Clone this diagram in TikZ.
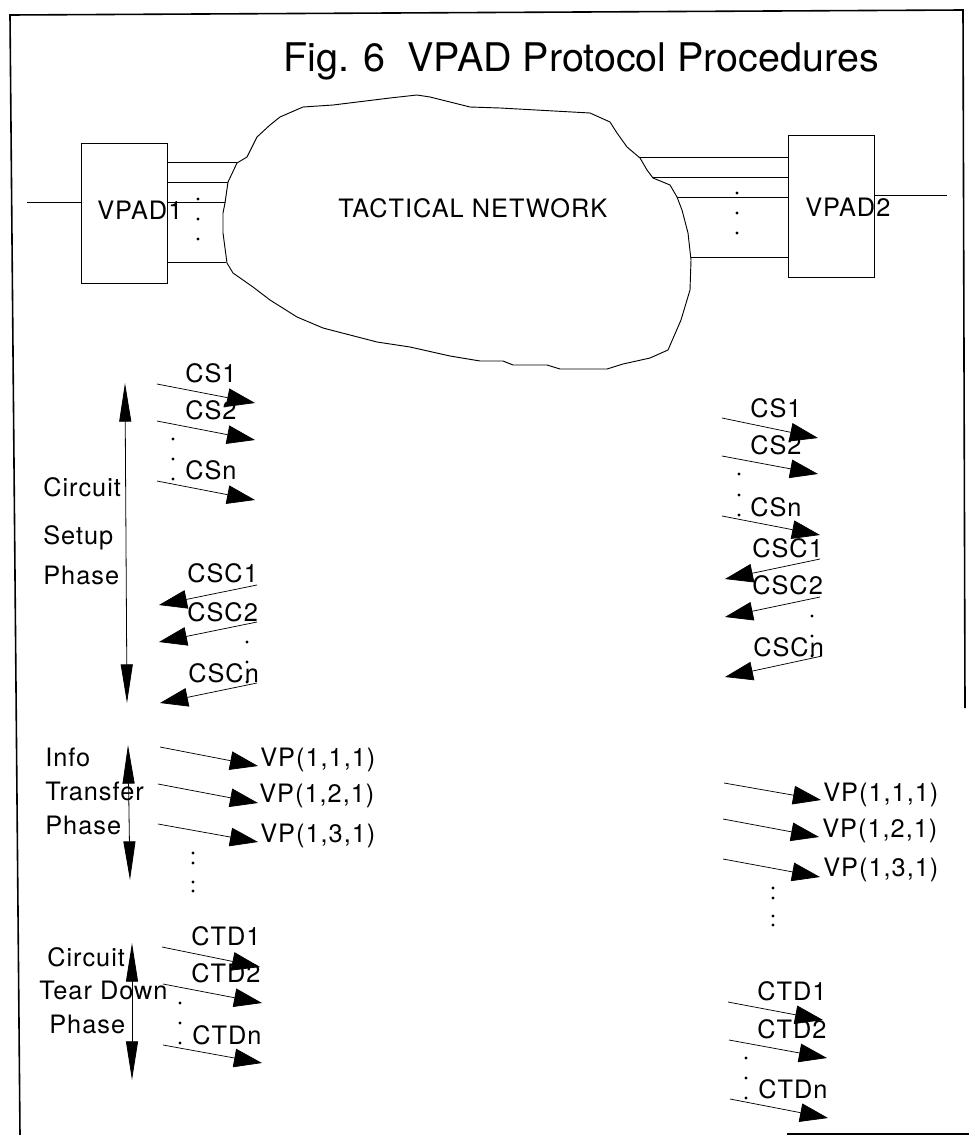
\documentclass[tikz,border=0pt]{standalone}
\usepackage{fontspec}
\setmainfont{TeX Gyre Heros}
\usetikzlibrary{positioning,arrows.meta,calc}
\tikzset{
  msgarrow/.style={-{Triangle[length=21pt, width=14pt]}, line width=0.55pt},
  phasearrow/.style={{Triangle[length=29pt, width=9pt]}-{Triangle[length=29pt, width=9pt]}, line width=0.6pt},
  padbox/.style={draw, line width=0.7pt, minimum width=64pt, minimum height=105pt, inner sep=0pt},
  wire/.style={line width=0.6pt},
  cloudline/.style={line width=0.7pt, line join=round},
  framepen/.style={line width=1.2pt},
  lbl/.style={font=\fontsize{19}{22}\selectfont\addfontfeature{LetterSpace=4}, inner sep=0pt, anchor=base west},
  titlelbl/.style={font=\fontsize{29.6}{34}\selectfont, inner sep=0pt, anchor=base west},
  dotmark/.style={fill=black}
}

\begin{document}
\begin{tikzpicture}[x=0.75pt, y=-0.75pt]
      \useasboundingbox (0,0) rectangle (969,1135);
      % frame
      \draw[framepen] (20,1135) -- (10,15) -- (963,10) -- (965,708);
      \draw[framepen] (787,1134) -- (969,1134);
      \node[titlelbl] (title) at (283,71) {Fig. 6\ \ VPAD Protocol Procedures};

      % network and the two pads
      \draw[cloudline] (303,107) -- (333,105) -- (390,98) -- (417,95) -- (430,97) -- (470,107)
        -- (500,108) -- (590,113) -- (610,122) -- (617,133) -- (627,147) -- (640,158) -- (647,170)
        -- (653,178) -- (670,185) -- (677,197) -- (682,210) -- (688,233) -- (691,260) -- (690,290)
        -- (681,320) -- (668,350) -- (650,358) -- (623,364) -- (607,369) -- (560,369) -- (547,365)
        -- (513,365) -- (503,361) -- (480,361) -- (450,356) -- (410,347) -- (377,342) -- (323,328)
        -- (297,317) -- (270,300) -- (253,287) -- (233,273) -- (227,263) -- (223,233) -- (223,213)
        -- (225,203) -- (228,182) -- (237,163) -- (247,157) -- (252,147) -- (257,137) -- (270,125)
        -- (280,117) -- cycle;
      \node[lbl] (net) at (338,217) {TACTICAL NETWORK};
      \node[padbox] (vpad1) at (124.5,213) {};
      \node[padbox, minimum width=65pt, minimum height=106pt] (vpad2) at (831.5,206.5) {};
      \node[lbl] (vpad1txt) at (97,219) {VPAD1};
      \node[lbl] (vpad2txt) at (805,216) {VPAD2};

      % access lines
      \coordinate (in1) at (27,202);
      \coordinate (in2) at (947,195);
      \draw[wire] (in1) -- (in1 -| vpad1.west);
      \draw[wire] (in2) -- (in2 -| vpad2.east);
      \coordinate (l1) at (237,162);
      \coordinate (l2) at (228,182);
      \coordinate (l3) at (225,202);
      \coordinate (l4) at (226,262);
      \coordinate (r1) at (640,157);
      \coordinate (r2) at (653,177);
      \coordinate (r3) at (677,197);
      \coordinate (r4) at (691,257);
      \draw[wire] (l1 -| vpad1.east) -- (l1);
      \draw[wire] (l2 -| vpad1.east) -- (l2);
      \draw[wire] (l3 -| vpad1.east) -- (l3);
      \draw[wire] (l4 -| vpad1.east) -- (l4);
      \draw[wire] (r1) -- (r1 -| vpad2.west);
      \draw[wire] (r2) -- (r2 -| vpad2.west);
      \draw[wire] (r3) -- (r3 -| vpad2.west);
      \draw[wire] (r4) -- (r4 -| vpad2.west);

      % phase markers
      \node[lbl] (ph1a) at (43,496) {Circuit};
      \node[lbl] (ph1b) at (43,544) {Setup};
      \node[lbl] (ph1c) at (43,584) {Phase};
      \node[lbl] (ph2a) at (45,766) {Info};
      \node[lbl] (ph2b) at (45,800) {Transfer};
      \node[lbl] (ph2c) at (45,834) {Phase};
      \node[lbl] (ph3a) at (47,966) {Circuit};
      \node[lbl] (ph3b) at (39,999) {Tear Down};
      \node[lbl] (ph3c) at (49,1033) {Phase};
      \coordinate (p1t) at (125,383);  \coordinate (p1b) at (127,703);
      \coordinate (p2t) at (128,745);  \coordinate (p2b) at (130,880);
      \coordinate (p3t) at (132,943);  \coordinate (p3b) at (132,1080);
      \draw[phasearrow] (p1t) -- (p1b);
      \draw[phasearrow] (p2t) -- (p2b);
      \draw[phasearrow] (p3t) -- (p3b);

      % circuit setup, VPAD1 side
      \coordinate (lcs1a) at (157,384);  \coordinate (lcs1b) at (255,403);
      \coordinate (lcs2a) at (157,421);  \coordinate (lcs2b) at (255,440);
      \coordinate (lcsna) at (157,481);  \coordinate (lcsnb) at (255,500);
      \coordinate (lcc1a) at (257,585);  \coordinate (lcc1b) at (159,605);
      \coordinate (lcc2a) at (257,622);  \coordinate (lcc2b) at (159,642);
      \coordinate (lccna) at (257,683);  \coordinate (lccnb) at (160,703);
      \draw[msgarrow] (lcs1a) -- (lcs1b);
      \draw[msgarrow] (lcs2a) -- (lcs2b);
      \draw[msgarrow] (lcsna) -- (lcsnb);
      \draw[msgarrow] (lcc1a) -- (lcc1b);
      \draw[msgarrow] (lcc2a) -- (lcc2b);
      \draw[msgarrow] (lccna) -- (lccnb);
      \node[lbl] (lcs1) at (185,382) {CS1};
      \node[lbl] (lcs2) at (185,419) {CS2};
      \node[lbl] (lcsn) at (185,479) {CSn};
      \node[lbl] (lcc1) at (187,582) {CSC1};
      \node[lbl] (lcc2) at (187,621) {CSC2};
      \node[lbl] (lccn) at (188,682) {CSCn};

      % circuit setup, VPAD2 side
      \coordinate (rcs1a) at (722,418);  \coordinate (rcs1b) at (818,438);
      \coordinate (rcs2a) at (722,456);  \coordinate (rcs2b) at (818,474);
      \coordinate (rcsna) at (722,516);  \coordinate (rcsnb) at (820,535);
      \coordinate (rcc1a) at (820,559);  \coordinate (rcc1b) at (725,579);
      \coordinate (rcc2a) at (820,597);  \coordinate (rcc2b) at (725,617);
      \coordinate (rccna) at (822,656);  \coordinate (rccnb) at (725,677);
      \draw[msgarrow] (rcs1a) -- (rcs1b);
      \draw[msgarrow] (rcs2a) -- (rcs2b);
      \draw[msgarrow] (rcsna) -- (rcsnb);
      \draw[msgarrow] (rcc1a) -- (rcc1b);
      \draw[msgarrow] (rcc2a) -- (rcc2b);
      \draw[msgarrow] (rccna) -- (rccnb);
      \node[lbl] (rcs1) at (750,417) {CS1};
      \node[lbl] (rcs2) at (750,454) {CS2};
      \node[lbl] (rcsn) at (750,516) {CSn};
      \node[lbl] (rcc1) at (752,557) {CSC1};
      \node[lbl] (rcc2) at (752,594) {CSC2};
      \node[lbl] (rccn) at (753,656) {CSCn};

      % info transfer
      \coordinate (lvp1a) at (160,747);  \coordinate (lvp1b) at (258,766);
      \coordinate (lvp2a) at (158,784);  \coordinate (lvp2b) at (258,803);
      \coordinate (lvp3a) at (158,824);  \coordinate (lvp3b) at (258,842);
      \coordinate (rvp1a) at (724,783);  \coordinate (rvp1b) at (821,800);
      \coordinate (rvp2a) at (723,819);  \coordinate (rvp2b) at (819,837);
      \coordinate (rvp3a) at (723,859);  \coordinate (rvp3b) at (820,877);
      \draw[msgarrow] (lvp1a) -- (lvp1b);
      \draw[msgarrow] (lvp2a) -- (lvp2b);
      \draw[msgarrow] (lvp3a) -- (lvp3b);
      \draw[msgarrow] (rvp1a) -- (rvp1b);
      \draw[msgarrow] (rvp2a) -- (rvp2b);
      \draw[msgarrow] (rvp3a) -- (rvp3b);
      \node[lbl] (lvp1) at (260,766) {VP(1,1,1)};
      \node[lbl] (lvp2) at (259,802) {VP(1,2,1)};
      \node[lbl] (lvp3) at (260,842) {VP(1,3,1)};
      \node[lbl] (rvp1) at (823,801) {VP(1,1,1)};
      \node[lbl] (rvp2) at (822,837) {VP(1,2,1)};
      \node[lbl] (rvp3) at (823,876) {VP(1,3,1)};

      % circuit tear down
      \coordinate (lct1a) at (162,947);  \coordinate (lct1b) at (260,967);
      \coordinate (lct2a) at (163,984);  \coordinate (lct2b) at (262,1003);
      \coordinate (lctna) at (163,1045); \coordinate (lctnb) at (262,1063);
      \coordinate (rct1a) at (728,1002); \coordinate (rct1b) at (823,1020);
      \coordinate (rct2a) at (729,1040); \coordinate (rct2b) at (827,1058);
      \coordinate (rctna) at (730,1099); \coordinate (rctnb) at (828,1118);
      \draw[msgarrow] (lct1a) -- (lct1b);
      \draw[msgarrow] (lct2a) -- (lct2b);
      \draw[msgarrow] (lctna) -- (lctnb);
      \draw[msgarrow] (rct1a) -- (rct1b);
      \draw[msgarrow] (rct2a) -- (rct2b);
      \draw[msgarrow] (rctna) -- (rctnb);
      \node[lbl] (lct1) at (191,945) {CTD1};
      \node[lbl] (lct2) at (191,982) {CTD2};
      \node[lbl] (lctn) at (192,1044) {CTDn};
      \node[lbl] (rct1) at (757,1000) {CTD1};
      \node[lbl] (rct2) at (757,1038) {CTD2};
      \node[lbl] (rctn) at (758,1098) {CTDn};

      % ellipsis dots
      \foreach \y in {199,219,239} \fill[dotmark] (198,\y) circle (1.6);
      \foreach \y in {193,213,233} \fill[dotmark] (737,\y) circle (1.6);
      \foreach \y in {439,459,479} \fill[dotmark] (173,\y) circle (1.6);
      \foreach \y in {642,662,682} \fill[dotmark] (247,\y) circle (1.6);
      \foreach \y in {474,495,515} \fill[dotmark] (739,\y) circle (1.6);
      \foreach \y in {616,636,656} \fill[dotmark] (812,\y) circle (1.6);
      \foreach \y in {853,863,882,891} \fill[dotmark] (193,\y) circle (1.6);
      \foreach \y in {888,898,916,925} \fill[dotmark] (773,\y) circle (1.6);
      \foreach \y in {1003,1023,1043} \fill[dotmark] (180,\y) circle (1.6);
      \foreach \y in {1058,1078,1098} \fill[dotmark] (746,\y) circle (1.6);
    \end{tikzpicture}
\end{document}
